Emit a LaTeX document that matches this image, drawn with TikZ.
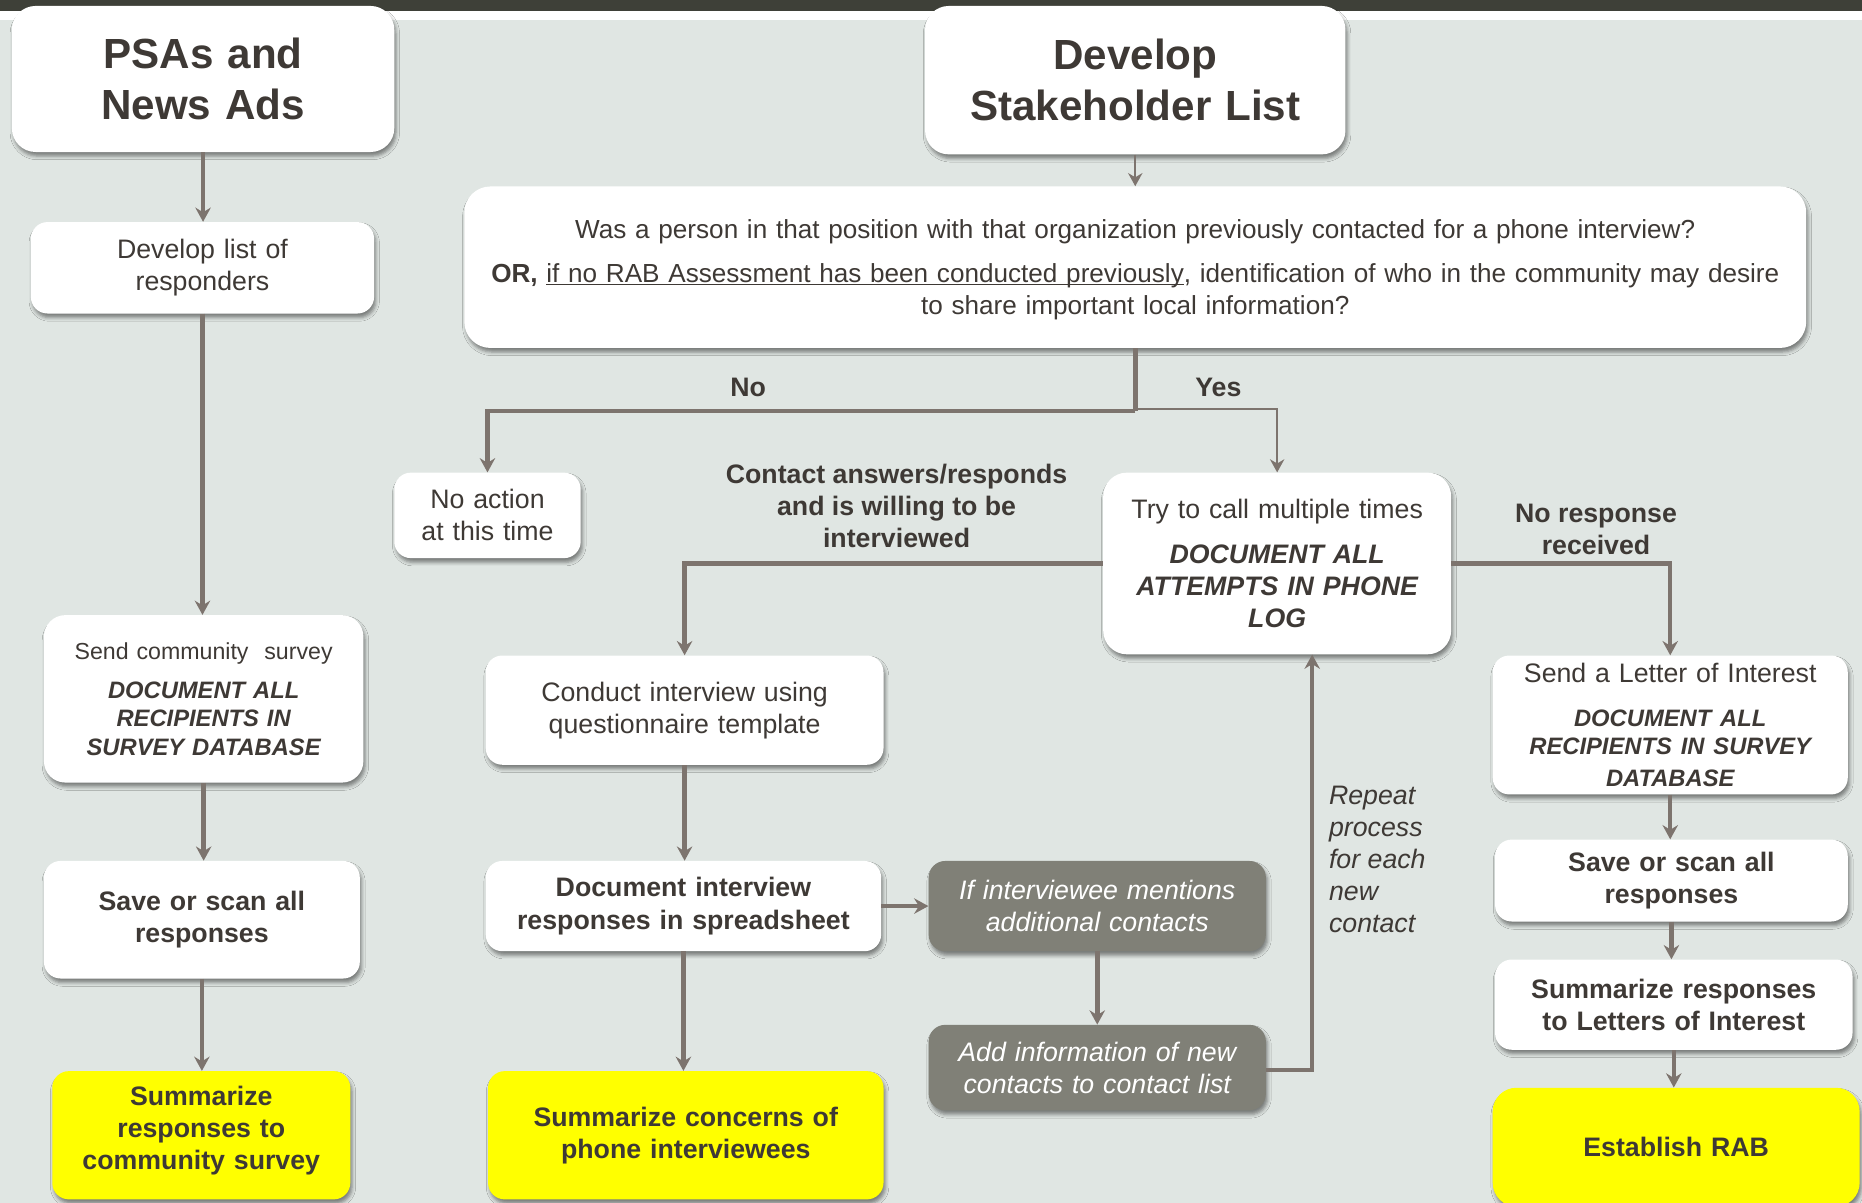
\documentclass[tikz,border=0pt]{standalone}
\usepackage{fontspec}
\setmainfont{Liberation Sans}
\usetikzlibrary{arrows.meta,shadows.blur,calc}
\definecolor{bgc}{RGB}{224,230,227}
\definecolor{barc}{RGB}{62,64,56}
\definecolor{txtc}{RGB}{62,57,53}
\definecolor{arrc}{RGB}{125,116,110}
\definecolor{greyc}{RGB}{128,128,119}
\definecolor{yelc}{RGB}{255,255,0}
\newcommand\bodyfs{\fontsize{22.5}{27}\selectfont}
\newcommand\qfs{\fontsize{22}{27}\selectfont}
\newcommand\headfs{\fontsize{35.5}{43}\selectfont}
\newcommand\capfs{\fontsize{20}{24}\selectfont}
\newcommand\bitf{\bfseries\itshape}
\begin{document}
\begin{tikzpicture}[x=1pt,y=-1pt,
  wbox/.style={fill=white, rounded corners=14pt, align=center, text=txtc, inner sep=0pt, font=\bodyfs,
     blur shadow={shadow xshift=1.5pt, shadow yshift=-3.5pt, shadow blur radius=3pt, shadow opacity=45}},
  ybox/.style={wbox, fill=yelc, font=\bodyfs\bfseries},
  gbox/.style={wbox, fill=greyc, text=white, font=\bodyfs\itshape},
  conn/.style={draw=arrc, line width=3.8pt, -{Stealth[length=12pt,width=13pt,inset=4pt]}},
  thinconn/.style={draw=arrc, line width=1.8pt, -{Stealth[length=11pt,width=12pt,inset=3.5pt]}},
  lab/.style={text=txtc, align=center, font=\bodyfs\bfseries, inner sep=0pt}
]
\useasboundingbox (0,0) rectangle (1568,1013);
\fill[bgc] (0,0) rectangle (1568,1013);
\fill[barc] (0,0) rectangle (1568,9);
\fill[white] (0,9) rectangle (1568,17);

\node[wbox, rounded corners=20pt, minimum width=322pt, minimum height=123pt, text width=310pt, font=\headfs\bfseries] (psa) at (171,66.5) {PSAs and\\News Ads};
\node[wbox, rounded corners=20pt, minimum width=354pt, minimum height=125pt, text width=344pt, font=\headfs\bfseries] (dsl) at (956,67.5) {Develop\\Stakeholder List};
\node[wbox, rounded corners=22pt, minimum width=1130pt, minimum height=136pt] (q) at (956,225) {};
\node[text width=1120pt, align=center, text=txtc, inner sep=0pt, font=\qfs] (qtext) at (956,227) {Was a person in that position with that organization previously contacted for a phone interview?\\[10pt]{\bfseries OR,} \underline{\smash{if no RAB Assessment has been conducted previously}}, identification of who in the community may desire\\to share important local information?};
\node[wbox, minimum width=289pt, minimum height=77pt, text width=280pt] (dev) at (170.5,225.5) {Develop list of\\responders};
\node[wbox, minimum width=157pt, minimum height=72pt, text width=150pt] (noa) at (410.5,434) {No action\\at this time};
\node[wbox, rounded corners=20pt, minimum width=293pt, minimum height=153pt, text width=285pt] (try) at (1075.5,474.5) {Try to call multiple times\\[11pt]\bitf DOCUMENT ALL\\ATTEMPTS IN PHONE\\LOG};
\node[wbox, rounded corners=18pt, minimum width=269pt, minimum height=141pt, text width=262pt, font=\capfs] (send) at (171.5,588.5) {{\fontsize{19.5}{24}\selectfont Send community\ \ survey}\\[9pt]\bitf DOCUMENT ALL\\RECIPIENTS IN\\SURVEY DATABASE};
\node[wbox, minimum width=335pt, minimum height=92pt, text width=325pt] (cond) at (576.5,598) {Conduct interview using\\questionnaire template};
\node[wbox, minimum width=299pt, minimum height=117pt, text width=292pt] (let) at (1406.5,610.5) {Send a Letter of Interest\\[13pt]\capfs\bitf DOCUMENT ALL\\RECIPIENTS IN SURVEY\\DATABASE};
\node[wbox, minimum width=266pt, minimum height=99pt, text width=258pt, font=\bodyfs\bfseries] (savel) at (170,774.5) {Save or scan all\\responses};
\node[wbox, minimum width=333pt, minimum height=76pt, text width=325pt, font=\bodyfs\bfseries] (doc) at (575.5,763) {Document interview\\responses in spreadsheet};
\node[gbox, minimum width=284pt, minimum height=76pt, text width=276pt] (ifm) at (924,763) {If interviewee mentions\\additional contacts};
\node[wbox, minimum width=297pt, minimum height=69pt, text width=290pt, font=\bodyfs\bfseries] (saver) at (1407.5,741.5) {Save or scan all\\responses};
\node[wbox, minimum width=301pt, minimum height=76pt, text width=294pt, font=\bodyfs\bfseries] (suml) at (1409.5,846) {Summarize responses\\to Letters of Interest};
\node[gbox, minimum width=284pt, minimum height=72pt, text width=276pt] (add) at (924,899) {Add information of new\\contacts to contact list};
\node[ybox, minimum width=251pt, minimum height=108pt] (sums) at (169.5,956) {};
\node[text width=244pt, align=center, text=txtc, inner sep=0pt, font=\bodyfs\bfseries] (sumstext) at (169.5,952) {Summarize\\responses to\\community survey};
\node[ybox, minimum width=333pt, minimum height=108pt, text width=325pt] (sumc) at (577.5,956) {Summarize concerns of\\phone interviewees};
\node[ybox, rounded corners=20pt, minimum width=309pt, minimum height=100pt, text width=300pt] (rab) at (1411.5,966) {Establish RAB};

\draw[conn] (psa.south) -- (psa.south |- dev.north);
\draw[conn] (dev.south) -- (dev.south |- send.north);
\draw[conn] (send.south) -- (send.south |- savel.north);
\draw[conn] (savel.south) -- (savel.south |- sums.north);
\draw[thinconn] (dsl.south) -- (dsl.south |- q.north);
\coordinate (split) at ($(q.south)+(0,53)$);
\coordinate (ysplit) at ($(q.south)+(0,51.5)$);
\draw[draw=arrc, line width=3.8pt] (q.south) -- (split);
\draw[conn] (split) -| (noa.north);
\draw[thinconn] (ysplit) -| (try.north);
\draw[conn] (try.west) -| (cond.north);
\draw[conn] (try.east) -| (let.north);
\draw[conn] (cond.south) -- (cond.south |- doc.north);
\draw[conn] (doc.south) -- (doc.south |- sumc.north);
\draw[conn] (doc.east) -- (ifm.west);
\draw[conn] (ifm.south) -- (ifm.south |- add.north);
\draw[conn] ([yshift=-2pt]add.east) -| ([xshift=29.5pt]try.south);
\draw[conn] (let.south) -- (let.south |- saver.north);
\draw[conn] (saver.south) -- (saver.south |- suml.north);
\draw[conn] (suml.south) -- (suml.south |- rab.north);

\node[lab] (lno) at (630,326) {No};
\node[lab] (lyes) at (1026,326) {Yes};
\node[lab] (lcontact) at (755,426) {Contact answers/responds\\and is willing to be\\interviewed};
\node[lab] (lnoresp) at (1344,446) {No response\\received};
\node[text=txtc, align=left, font=\bodyfs\itshape, inner sep=0pt, anchor=west] (lrep) at (1119,724) {Repeat\\process\\for each\\new\\contact};
\end{tikzpicture}
\end{document}
